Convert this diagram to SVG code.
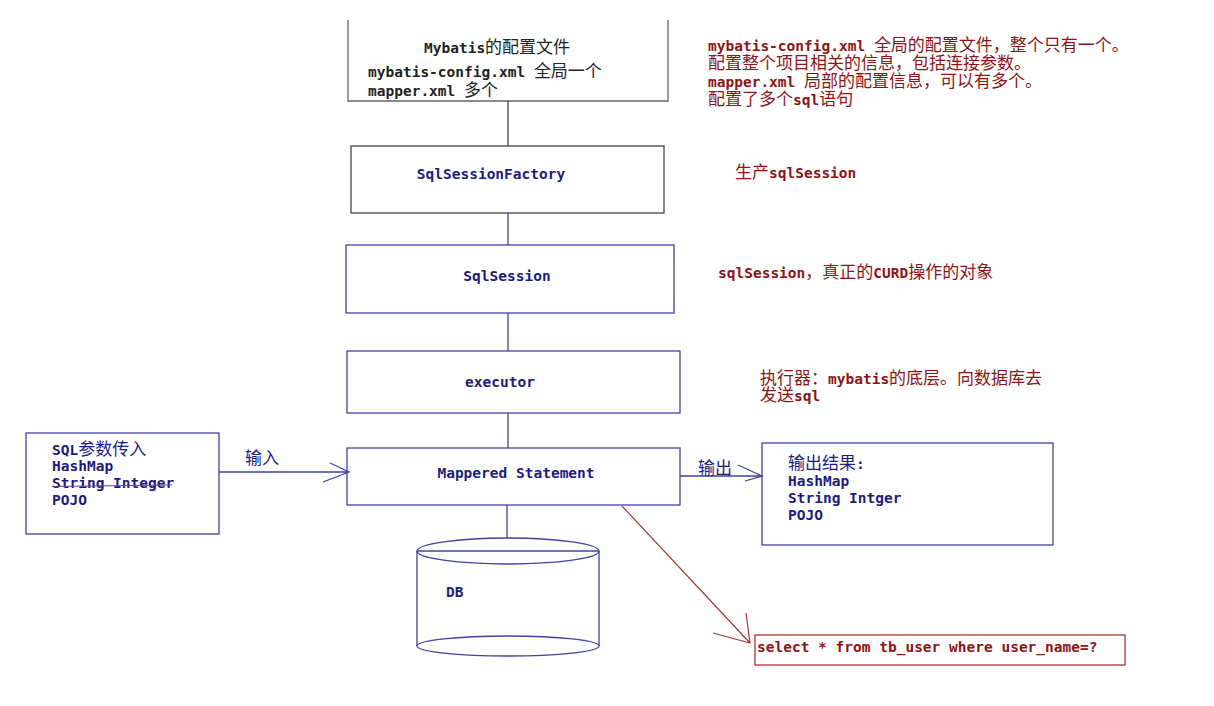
<svg xmlns="http://www.w3.org/2000/svg" width="1214" height="706" viewBox="0 0 1214 706">
<style>
.t{font-family:"DejaVu Sans Mono","Liberation Mono","Noto Sans CJK SC",monospace;font-weight:bold;font-size:14.5px}
.c{font-family:"Noto Sans CJK SC","Noto Sans CJK JP",sans-serif;font-weight:normal;font-size:17px}
.blue{fill:#1c1c80}
.red{fill:#8b1414}
.blk{fill:#222}
.box{fill:#fff;stroke:#4242a2;stroke-width:1.3}
.ln{stroke:#4242a2;stroke-width:1.3;fill:none}
</style>
<rect width="1214" height="706" fill="#fff"/>

<g id="config">
<path d="M348,20 V101 H668 V20" fill="none" stroke="#666" stroke-width="1.3"/>
<text class="t blk" x="424" y="53">Mybatis<tspan class="c">的配置文件</tspan></text>
<text class="t blk" x="368" y="77">mybatis-config.xml <tspan class="c">全局一个</tspan></text>
<text class="t blk" x="368" y="96">mapper.xml <tspan class="c">多个</tspan></text>
</g>

<g id="factory">
<rect x="351" y="146" width="313" height="67" fill="#fff" stroke="#444" stroke-width="1.3"/>
<text class="t blue" x="491" y="179" text-anchor="middle">SqlSessionFactory</text>
</g>

<g id="session">
<rect class="box" x="346" y="245" width="328" height="68"/>
<text class="t blue" x="507" y="281" text-anchor="middle">SqlSession</text>
</g>

<g id="executor">
<rect class="box" x="347" y="351" width="333" height="62"/>
<text class="t blue" x="500" y="387" text-anchor="middle">executor</text>
</g>

<g id="mapped">
<rect class="box" x="347" y="448" width="333" height="57"/>
<text class="t blue" x="516" y="478" text-anchor="middle">Mappered Statement</text>
</g>

<g id="input">
<rect class="box" x="26" y="433" width="193" height="101"/>
<text class="t blue" x="52" y="455">SQL<tspan class="c">参数传入</tspan></text>
<text class="t blue" x="52" y="471">HashMap</text>
<text class="t blue" x="52" y="488">String Integer</text>
<line x1="52" y1="486.5" x2="172" y2="485" stroke="#7a3a9a" stroke-width="1.2"/>
<text class="t blue" x="52" y="505">POJO</text>
</g>

<g id="output">
<rect class="box" x="762" y="443" width="291" height="102"/>
<text class="t blue" x="788" y="469"><tspan class="c">输出结果</tspan>:</text>
<text class="t blue" x="788" y="486">HashMap</text>
<text class="t blue" x="788" y="503">String Intger</text>
<text class="t blue" x="788" y="520">POJO</text>
</g>

<g id="db">
<path d="M417,551 V646 M599,551 V646" class="ln"/>
<ellipse cx="508" cy="551" rx="91" ry="13" class="ln"/>
<line x1="417" y1="551" x2="599" y2="551" class="ln"/>
<ellipse cx="508" cy="646" rx="91" ry="10" class="ln"/>
<text class="t blue" x="446" y="597">DB</text>
</g>

<g id="sql">
<rect x="755" y="635" width="370" height="30" fill="#fff" stroke="#b03434" stroke-width="1.3"/>
<text class="t red" x="757" y="652">select * from tb_user where user_name=?</text>
</g>

<g id="notes">
<text class="t red" x="708" y="51">mybatis-config.xml <tspan class="c">全局的配置文件，整个只有一个。</tspan></text>
<text class="t red" x="708" y="69"><tspan class="c">配置整个项目相关的信息，包括连接参数。</tspan></text>
<text class="t red" x="708" y="87">mapper.xml <tspan class="c">局部的配置信息，可以有多个。</tspan></text>
<text class="t red" x="708" y="105"><tspan class="c">配置了多个</tspan>sql<tspan class="c">语句</tspan></text>
<text class="t red" x="735" y="178"><tspan class="c">生产</tspan>sqlSession</text>
<text class="t red" x="718" y="278">sqlSession<tspan class="c">，真正的</tspan>CURD<tspan class="c">操作的对象</tspan></text>
<text class="t red" x="760" y="384"><tspan class="c">执行器：</tspan>mybatis<tspan class="c">的底层。向数据库去</tspan></text>
<text class="t red" x="760" y="401"><tspan class="c">发送</tspan>sql</text>
</g>

<g id="connectors">
<line x1="508" y1="101" x2="508" y2="146" stroke="#444" stroke-width="1.3"/>
<line x1="508" y1="213" x2="508" y2="245" class="ln"/>
<line x1="508" y1="313" x2="508" y2="351" class="ln"/>
<line x1="508" y1="413" x2="508" y2="448" class="ln"/>
<line x1="507" y1="505" x2="507" y2="538" class="ln"/>
<path d="M219,472 H347 M330,463 L349,472 L323,482" class="ln"/>
<text class="c blue" x="245" y="464">输入</text>
<path d="M680,476 H762 M738,465 L762,476 L745,481" class="ln"/>
<text class="c blue" x="698" y="474">输出</text>
<path d="M622,506 L750,643 M746,613 L750,643 L713,633" fill="none" stroke="#a03838" stroke-width="1.2"/>
</g>
</svg>
